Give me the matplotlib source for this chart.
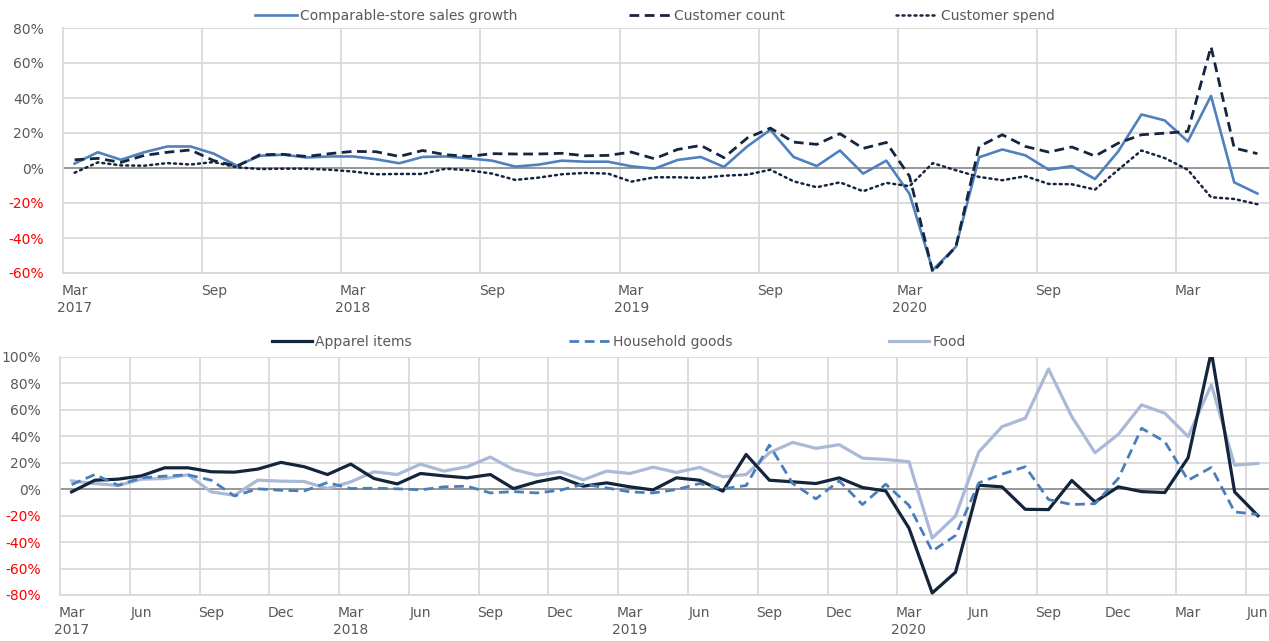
import matplotlib
matplotlib.use("Agg")
import matplotlib.pyplot as plt
import numpy as np
import pandas as pd

# monthly categories, Mar 2017 - Jun 2021
months = pd.date_range("2017-03-01", periods=52, freq="MS")

# top panel (% y/y)
comp_sales = [2.5, 9, 4.7, 9, 12.3, 12.3, 8.2, 1.3, 7, 7.6, 6, 6.6, 6.6, 5, 2.7, 6.3,
              6.6, 5.5, 4.2, 0.8, 1.9, 4.2, 3.6, 3.6, 1, -0.4, 4.6, 6.3, 0.6, 12.3, 21.8, 6.3,
              1.1, 10, -3.2, 4.2, -14.8, -58.3, -45, 6.1, 10.6, 7.2, -1, 1.1, -6.3, 9.5, 30.6, 27.2,
              15.2, 41.2, -8.2, -14.6]
cust_count = [4.7, 5.5, 3.2, 7.2, 9, 10.3, 4.2, 1, 7.6, 7.8, 6.6, 8.2, 9.5, 9.3, 6.6, 10,
              7.6, 6.6, 8.2, 8, 8, 8.4, 7, 7.2, 9.1, 5.3, 10.6, 12.9, 5.9, 17.1, 22.8, 14.8,
              13.5, 19.6, 11.2, 14.6, -4.7, -59.4, -45, 12.3, 19, 12.3, 9.1, 12, 6.8, 14.2, 19, 19.9,
              20.9, 69.3, 11.4, 8.2]
cust_spend = [-2.7, 3.2, 1.5, 1.3, 2.8, 2, 3.4, 0.4, -0.6, -0.4, -0.4, -1, -2, -3.6, -3.4, -3.4,
              -0.4, -1.3, -3.2, -6.8, -5.5, -3.6, -2.8, -3.2, -7.8, -5.3, -5.3, -5.7, -4.4, -3.8, -1, -7.6,
              -11, -8.2, -13.3, -8.5, -10.4, 2.8, -1.3, -5.1, -7, -4.7, -9.1, -9.3, -12.3, -1, 10, 5.7,
              -1, -16.7, -17.7, -20.7]

# bottom panel (% y/y)
apparel = [-2, 6.8, 7.6, 10.1, 16.2, 16.2, 13.2, 12.9, 15.2, 20.3, 17, 11.1, 19, 8.1, 4, 11.9,
           10.1, 8.6, 11.1, 0.5, 5.6, 8.9, 2.3, 4.8, 1.8, -0.5, 8.6, 6.8, -1.5, 26.3, 6.8, 5.6,
           4.3, 8.6, 1.3, -1.3, -29.4, -78.5, -62.8, 3, 1.8, -15.2, -15.4, 6.6, -9.6, 1.8, -1.8, -2.5,
           23.8, 104, -2, -20]
household = [3.5, 11.1, 3, 8.6, 9.9, 10.9, 6.8, -5.1, 0.3, -0.8, -1.3, 5.1, 0.5, 0.8, 0.3, -0.5,
             1.8, 2.3, -2.8, -1.8, -2.8, -0.8, 3.8, 1, -2, -2.8, -0.3, 4.3, 0.3, 2.8, 33.4, 4.3,
             -7.3, 6.3, -11.6, 3.8, -12.2, -46.8, -35, 4.8, 11.4, 17, -7.8, -11.6, -10.9, 8.1, 46.1, 36,
             6.8, 16.5, -17.2, -19]
food = [6.3, 4.3, 2.8, 7.6, 8.1, 10.9, -2, -4.6, 6.8, 6.1, 5.8, 0.5, 5.6, 13.2, 11.1, 19,
        13.7, 17, 24.3, 14.9, 10.6, 13.2, 7.1, 13.7, 11.9, 16.7, 12.7, 16.5, 9.4, 11.1, 27.6, 35.4,
        30.9, 33.7, 23.5, 22.5, 20.8, -37, -20.3, 28.1, 47.3, 53.7, 90.9, 54.9, 27.6, 41.5, 63.8, 57.5,
        39.8, 79, 18.2, 19.5]

plt.rcParams['font.family'] = ['DejaVu Sans']
grid_c = "#d9d9d9"
txt_c = "#595959"

x = np.arange(len(months))


def month_labels(step):
    labs = []
    for i, m in enumerate(months):
        if i % step:
            continue
        s = m.strftime("%b")
        if m.month == 3 and m.year < 2021:
            s += "\n" + str(m.year)
        labs.append((i, s))
    return labs


def style_axis(ax, ylo, yhi, step):
    ax.set_xlim(-0.5, len(months) - 0.5)
    ax.set_ylim(ylo, yhi)
    yt = np.arange(ylo, yhi + 1, 20)
    ax.set_yticks(yt)
    ax.set_yticklabels([f"{v:d}%" for v in yt])
    for t, v in zip(ax.get_yticklabels(), yt):
        t.set_color("#ff0000" if v < 0 else txt_c)
    for v in yt:
        ax.axhline(v, color=grid_c, lw=1.3, zorder=0)
    ax.axhline(0, color="#868686", lw=1.1, zorder=1)
    labs = month_labels(step)
    for i, _ in labs:
        if i > 0:
            ax.axvline(i - 0.5, color=grid_c, lw=1.3, zorder=0)
    ax.set_xticks([i for i, _ in labs])
    ax.set_xticklabels([s for _, s in labs], linespacing=1.25,
                       va="top", color=txt_c)
    ax.tick_params(axis="both", length=0, labelsize=10)
    ax.tick_params(axis="y", pad=14)
    ax.tick_params(axis="x", pad=8)
    for side in ["top", "right"]:
        ax.spines[side].set_visible(False)
    for side in ["left", "bottom"]:
        ax.spines[side].set_color(grid_c)
        ax.spines[side].set_linewidth(1.3)


fig = plt.figure(figsize=(12.69, 6.41), dpi=100)

ax1 = fig.add_axes([63 / 1269, 1 - 273 / 641, 1206 / 1269, 245 / 641])
style_axis(ax1, -60, 80, 6)
ax1.plot(x, comp_sales, color="#4f81bd", lw=1.9, label="Comparable-store sales growth", zorder=3)
ax1.plot(x, cust_count, color="#15253f", lw=2.0, ls=(0, (3.5, 2)), label="Customer count", zorder=3)
ax1.plot(x, cust_spend, color="#15253f", lw=1.8, ls=(0, (0.8, 1.6)), dash_capstyle="round",
         label="Customer spend", zorder=3)
fig.legend(handles=ax1.get_lines()[-3:], loc="center", bbox_to_anchor=(655 / 1269, 1 - 16 / 641),
           ncol=3, frameon=False, fontsize=10, handlelength=3.0, handletextpad=0.25,
           columnspacing=8.0, labelcolor=txt_c)

ax2 = fig.add_axes([60 / 1269, 1 - 595 / 641, 1209.5 / 1269, 238 / 641])
style_axis(ax2, -80, 100, 3)
ax2.plot(x, apparel, color="#13243b", lw=2.3, label="Apparel items", zorder=3)
ax2.plot(x, household, color="#4a7ebb", lw=2.0, ls=(0, (3.5, 2)), label="Household goods", zorder=3)
ax2.plot(x, food, color="#a9b9d6", lw=2.3, label="Food", zorder=2)
fig.legend(handles=ax2.get_lines()[-3:], loc="center", bbox_to_anchor=(619 / 1269, 1 - 342 / 641),
           ncol=3, frameon=False, fontsize=10, handlelength=2.9, handletextpad=0.25,
           columnspacing=11.3, labelcolor=txt_c)

fig.savefig("out.png", dpi=100)
